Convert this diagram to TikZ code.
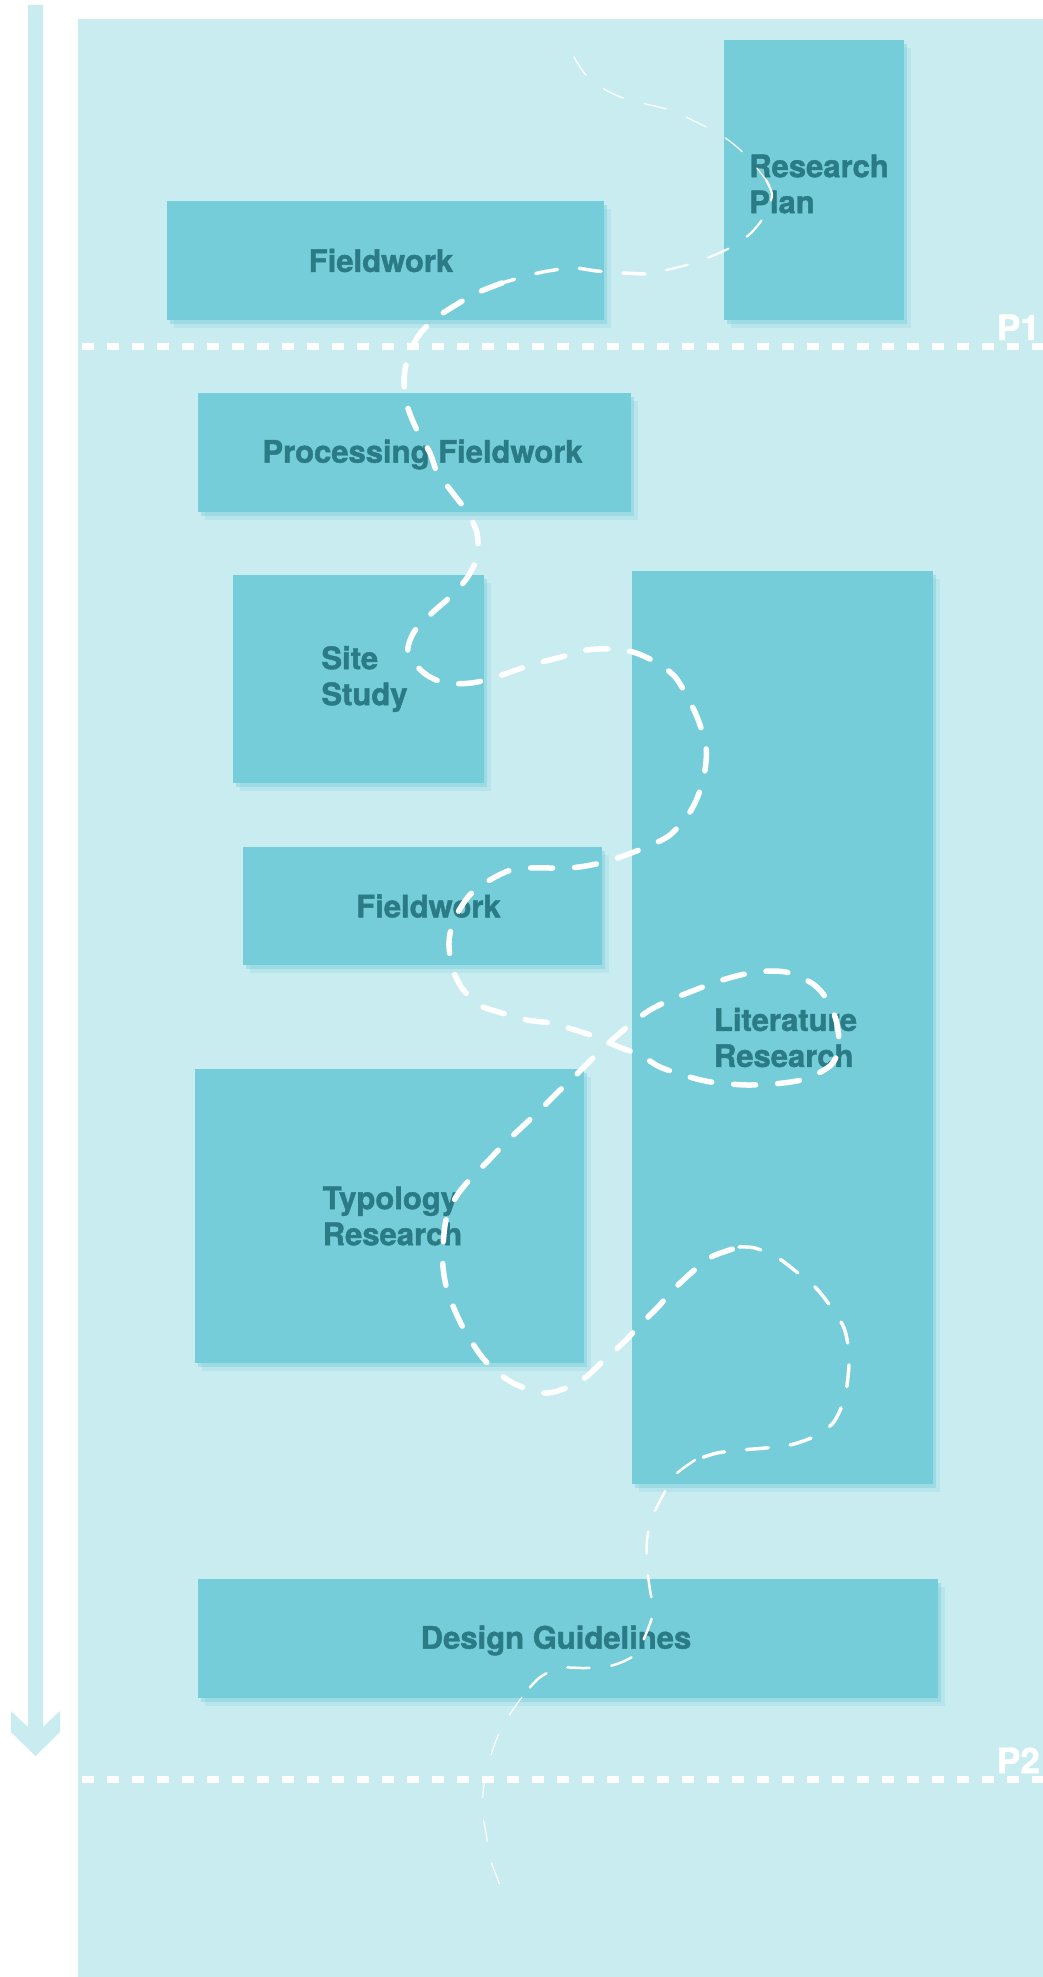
\documentclass[tikz,border=0pt]{standalone}
\usepackage{fontspec}
\setmainfont{TeX Gyre Heros}[BoldFeatures={FakeBold=1.3}]
\usetikzlibrary{shadows}
\definecolor{panelcol}{HTML}{C9ECF0}
\definecolor{boxcol}{HTML}{74CDD8}
\definecolor{labelcol}{HTML}{2A7B86}

\begin{document}
\begin{tikzpicture}[x=1pt,y=-1pt,
    blk/.style={fill=boxcol,inner sep=0pt,
        general shadow={shadow xshift=7pt,shadow yshift=-8pt,fill=boxcol,opacity=.2},
        general shadow={shadow xshift=3pt,shadow yshift=-4pt,fill=boxcol,opacity=.4}},
    txt/.style={text=labelcol,align=left,font=\fontsize{31}{36}\selectfont\bfseries},
    trail/.style={white,dash pattern=on 22pt off 22pt,line cap=round},
    phase/.style={white,line width=7pt,dash pattern=on 12pt off 13pt},
    plabel/.style={white,anchor=base east,inner sep=0pt,font=\fontsize{35}{38}\selectfont\bfseries}]

    \useasboundingbox(0,0)rectangle(1043,1977);
    \fill[white](0,0)rectangle(1043,1977);
    \fill[panelcol](78,19)rectangle(1043,1977);
    \fill[panelcol](28,5)--(28,1727)--(11,1711)--(11,1732)--(35.5,1756)--(60,1732)--(60,1711)--(43,1727)--(43,5)--cycle;

    \node[blk,minimum width=180pt,minimum height=280pt,label={[txt,xshift=5pt,yshift=-4pt]center:Research\\Plan}](plan)at(814,180){};
    \node[blk,minimum width=437pt,minimum height=118pt,label={[txt,xshift=-4pt]center:Fieldwork}](field1)at(385,260.5){};
    \node[blk,minimum width=433pt,minimum height=119pt,label={[txt,xshift=8pt,yshift=-2pt]center:Processing Fieldwork}](proc)at(414.5,452.5){};
    \node[blk,minimum width=251pt,minimum height=208pt,label={[txt,xshift=6pt]center:Site\\Study}](site)at(358.5,679){};
    \node[blk,minimum width=301pt,minimum height=913pt,label={[txt,xshift=3pt,yshift=-10pt]center:Literature\\Research}](lit)at(782.5,1027.5){};
    \node[blk,minimum width=359pt,minimum height=118pt,label={[txt,xshift=6pt]center:Fieldwork}](field2)at(422.5,906){};
    \node[blk,minimum width=389pt,minimum height=294pt,label={[txt,xshift=3pt]center:Typology\\Research}](typo)at(389.5,1216){};
    \node[blk,minimum width=740pt,minimum height=119pt,label={[txt,xshift=-12pt,yshift=-2pt]center:Design Guidelines}](guide)at(568,1638.5){};

    \draw[phase](82,346)--(1043,346);
    \draw[phase](82,1779)--(1043,1779);
    \node[plabel](p1)at(1040,340){P1};
    \node[plabel](p2)at(1040,1773){P2};

    \draw[trail,line width=1.3pt]plot[smooth]coordinates{(574,57)(585,74)(604,89)(626,99)(650,105)(673,111)(696,122)(718,133)(737,147)(752,162)(766,180)};
    \draw[trail,line width=2.2pt]plot[smooth]coordinates{(766,180)(772,195)(765,215)(752,232)(735,245)(717,254)(693,263)(671,269)(645,274)};
    \draw[trail,line width=3.5pt]plot[smooth]coordinates{(645,274)(623,273)(597,271)(574,268)(548,271)(526,276)(502,283)};
    \draw[trail,line width=5.5pt]plot[smooth]coordinates{(502,283)(479,292)(459,303)(436,318)(419,335)(408,357)(404,380)(407,405)(416,428)(430,453)(437,472)(452,492)(467,512)(477,533)(477,557)(467,578)(450,597)(432,613)(414,632)(408,653)(424,673)(445,683)(471,683)(493,678)(519,669)(538,663)(565,656)(586,650)(613,649)(636,653)(659,664)(676,678)(690,702)(699,722)(706,747)(705,770)(698,796)(688,815)(670,835)(651,845)(626,855)(605,862)(579,867)(556,868)(529,868)(508,871)(485,883)(468,897)(454,920)(449,942)(452,967)(462,988)(479,1005)(502,1013)(527,1020)(550,1023)(575,1030)(596,1037)(619,1047)(640,1055)(660,1067)(686,1076)(711,1082)(747,1085)(783,1083)(808,1078)(831,1065)(839,1047)(836,1020)(826,998)(813,984)(790,973)(769,971)(745,974)(719,981)(695,990)(670,1000)(650,1010)(632,1023)(612,1040)(594,1057)(576,1075)(558,1092)(540,1110)(522,1127)(505,1143)(487,1162)(471,1178)(456,1197)(446,1220)(443,1247)(443,1267)(447,1290)(456,1313)(466,1333)(482,1357)(497,1372)(517,1385)(545,1393)(566,1388)(586,1377)(604,1360)(624,1342)(640,1325)(658,1307)(673,1290)(691,1273)(711,1257)(739,1247)};
    \draw[trail,line width=3.5pt]plot[smooth]coordinates{(739,1247)(755,1248)(778,1258)(798,1273)(816,1288)(831,1307)(844,1328)(849,1353)(848,1377)(844,1400)(833,1423)(813,1437)(790,1445)(765,1448)(742,1450)(717,1453)(695,1460)};
    \draw[trail,line width=2.5pt]plot[smooth]coordinates{(695,1460)(675,1475)(663,1495)(652,1518)(647,1540)(647,1567)(650,1590)(653,1613)(642,1643)(632,1657)(610,1666)(585,1668)(560,1668)(539,1678)(522,1697)};
    \draw[trail,line width=1.2pt]plot[smooth]coordinates{(522,1697)(508,1717)(497,1738)(489,1762)(484,1785)(482,1810)(486,1833)(490,1858)(498,1880)(506,1902)};

\end{tikzpicture}
\end{document}
